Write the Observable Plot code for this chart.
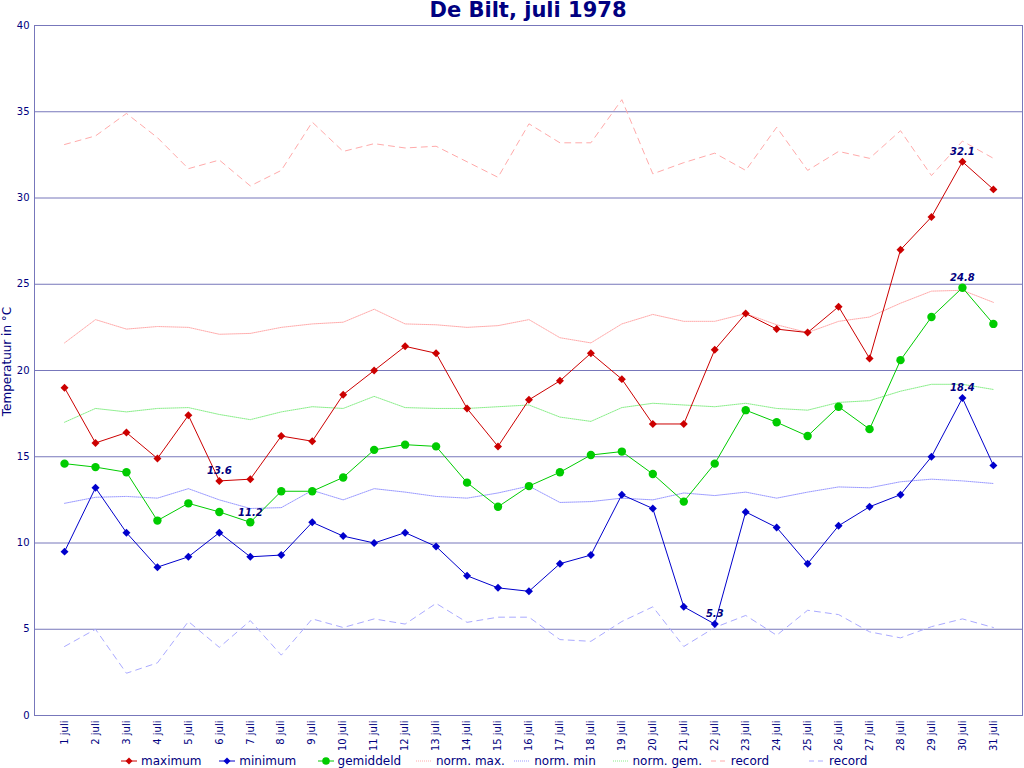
<!DOCTYPE html>
<html><head><meta charset="utf-8">
<script src="https://cdn.jsdelivr.net/npm/d3@7"></script>
<script src="https://cdn.jsdelivr.net/npm/@observablehq/plot@0.6"></script>
<style>
body{margin:0;background:#fff;font-family:"DejaVu Sans",sans-serif;color:#000080;width:1024px;height:768px;overflow:hidden;}
#title{height:20px;line-height:20px;font-size:21px;font-weight:bold;text-align:center;margin-left:34px;width:988px;color:#000080;}
#chart svg{display:block;}
#legend{position:relative;height:20px;}
.item{position:absolute;top:5px;height:16px;display:flex;align-items:center;font-size:12px;color:#000080;white-space:nowrap;}
.item svg{margin-right:4px;}
</style></head><body>
<div id="title">De Bilt, juli 1978</div>
<div id="chart"></div>
<div id="legend"></div>
<script>
const days = [1,2,3,4,5,6,7,8,9,10,11,12,13,14,15,16,17,18,19,20,21,22,23,24,25,26,27,28,29,30,31];
const maximum = [19.0,15.8,16.4,14.9,17.4,13.6,13.7,16.2,15.9,18.6,20.0,21.4,21.0,17.8,15.6,18.3,19.4,21.0,19.5,16.9,16.9,21.2,23.3,22.4,22.2,23.7,20.7,27.0,28.9,32.1,30.5];
const minimum = [9.5,13.2,10.6,8.6,9.2,10.6,9.2,9.3,11.2,10.4,10.0,10.6,9.8,8.1,7.4,7.2,8.8,9.3,12.8,12.0,6.3,5.3,11.8,10.9,8.8,11.0,12.1,12.8,15.0,18.4,14.5];
const gemiddeld = [14.6,14.4,14.1,11.3,12.3,11.8,11.2,13.0,13.0,13.8,15.4,15.7,15.6,13.5,12.1,13.3,14.1,15.1,15.3,14.0,12.4,14.6,17.7,17.0,16.2,17.9,16.6,20.6,23.1,24.8,22.7];
const normMax = [21.6,22.95,22.4,22.55,22.5,22.1,22.15,22.5,22.7,22.8,23.55,22.7,22.65,22.5,22.6,22.95,21.9,21.6,22.7,23.25,22.85,22.85,23.3,22.65,22.2,22.85,23.1,23.9,24.6,24.65,23.95];
const normMin = [12.3,12.65,12.7,12.6,13.15,12.5,12.0,12.05,13.05,12.5,13.15,12.95,12.7,12.6,12.9,13.3,12.35,12.4,12.6,12.5,12.9,12.75,12.95,12.6,12.95,13.25,13.2,13.55,13.7,13.6,13.45];
const normGem = [17.0,17.8,17.6,17.8,17.85,17.45,17.15,17.6,17.9,17.8,18.5,17.85,17.8,17.8,17.9,18.0,17.3,17.05,17.85,18.1,18.0,17.9,18.1,17.8,17.7,18.15,18.25,18.8,19.2,19.2,18.9];
const recordMax = [33.1,33.6,34.9,33.5,31.7,32.2,30.7,31.6,34.4,32.7,33.15,32.9,33.0,32.1,31.2,34.3,33.2,33.2,35.7,31.4,32.05,32.6,31.6,34.1,31.6,32.7,32.3,33.9,31.3,33.3,32.3];
const recordMin = [4.0,5.0,2.45,3.05,5.45,3.95,5.5,3.5,5.6,5.1,5.6,5.3,6.5,5.4,5.7,5.7,4.4,4.3,5.45,6.3,4.0,5.1,5.8,4.65,6.1,5.85,4.85,4.5,5.15,5.6,5.1];
const yTicks = [0,5,10,15,20,25,30,35,40];
const gridTicks = [5,10,15,20,25,30,35];
const legendLabels = ["maximum","minimum","gemiddeld","norm. max.","norm. min","norm. gem.","record","record"];

const navy = "#000080";
const grid = "#7777bb";
const series = [
  {values: recordMax, stroke:"#ffaaaa", dash:"6,5", label: legendLabels[6]},
  {values: recordMin, stroke:"#aaaaff", dash:"6,5", label: legendLabels[7]},
  {values: normMax, stroke:"#ffaaaa", dash:"1,1", label: legendLabels[3]},
  {values: normMin, stroke:"#9999ff", dash:"1,1", label: legendLabels[4]},
  {values: normGem, stroke:"#88ee88", dash:"1,1", label: legendLabels[5]},
  {values: maximum, stroke:"#cc0000", symbol:"diamond2", r:3.6, label: legendLabels[0]},
  {values: minimum, stroke:"#0000cc", symbol:"diamond2", r:3.6, label: legendLabels[1]},
  {values: gemiddeld, stroke:"#00cc00", symbol:"circle", r:4.2, label: legendLabels[2]}
];

// extremes to annotate
const ann = [];
for (const s of [maximum, minimum, gemiddeld]) {
  const iMax = d3.maxIndex(s), iMin = d3.minIndex(s);
  ann.push({x: days[iMax], y: s[iMax]});
  ann.push({x: days[iMin], y: s[iMin]});
}

const marks = [
  Plot.ruleY(gridTicks, {stroke: grid, strokeWidth: 1}),
  Plot.frame({stroke: grid, strokeWidth: 1}),
  Plot.axisY(yTicks, {tickSize: 0, tickPadding: 5, fill: navy, fontSize: 10, label: null}),
  Plot.axisX(days, {tickSize: 0, tickPadding: 5, tickRotate: -90, fill: navy, fontSize: 10, label: null, tickFormat: d => d + " juli"}),
  Plot.text(["Temperatuur in °C"], {frameAnchor: "left", dx: -27, dy: -9, rotate: -90, textAnchor: "middle", fill: navy, fontSize: 12})
];
for (const s of series) {
  marks.push(Plot.lineY(s.values, {x: days, stroke: s.stroke, strokeWidth: 1, strokeDasharray: s.dash || null}));
}
for (const s of series) {
  if (s.symbol) marks.push(Plot.dotY(s.values, {x: days, symbol: s.symbol, fill: s.stroke, stroke: "none", r: s.r}));
}
marks.push(Plot.text(ann, {x: "x", y: "y", text: d => d3.format(".1f")(d.y), dy: -10, fill: navy, fontSize: 10, fontWeight: "bold", fontStyle: "italic"}));

const chart = Plot.plot({
  width: 1024, height: 728,
  marginTop: 5, marginLeft: 34, marginRight: 2, marginBottom: 33,
  x: {domain: [0.03, 31.94]},
  y: {domain: [0, 40]},
  style: {fontFamily: "DejaVu Sans", background: "white", color: navy, overflow: "visible"},
  marks
});
document.getElementById("chart").append(chart);

// legend
const order = [5,6,7,2,3,4,0,1];
const leg = document.getElementById("legend");
order.forEach((k, i) => {
  const s = series[k];
  const div = document.createElement("div");
  div.className = "item";
  div.style.left = (121 + i * 98.3) + "px";
  let sym = "";
  if (s.symbol === "diamond2") sym = `<path d="M8,2.5 L11.5,6 L8,9.5 L4.5,6Z" fill="${s.stroke}"/>`;
  else if (s.symbol === "circle") sym = `<circle cx="8" cy="6" r="3.8" fill="${s.stroke}"/>`;
  div.innerHTML = `<svg width="16" height="12"><line x1="0" x2="16" y1="6" y2="6" stroke="${s.stroke}" stroke-width="1" ${s.dash ? `stroke-dasharray="${s.dash === "1,1" ? "1,1" : "5,4"}"` : ""}/>${sym}</svg><span>${s.label}</span>`;
  leg.append(div);
});
</script>
</body></html>
